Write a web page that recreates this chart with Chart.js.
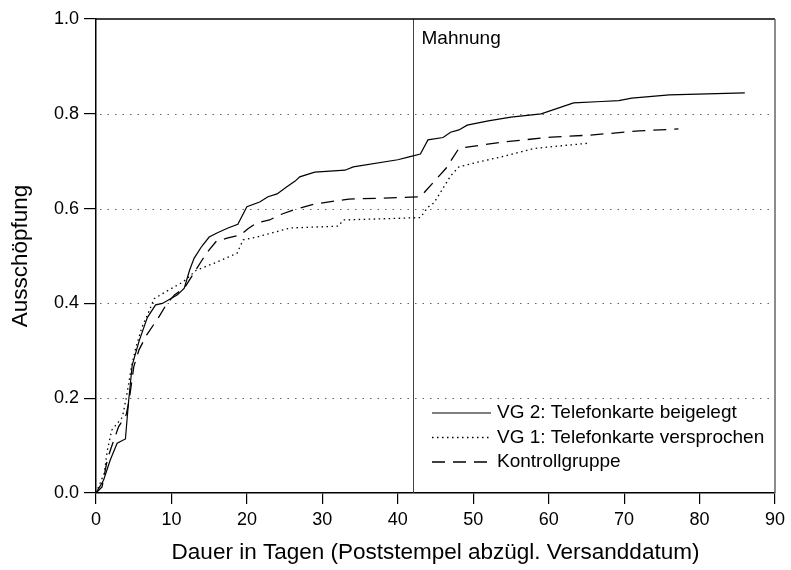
<!DOCTYPE html>
<html>
<head>
<meta charset="utf-8">
<script src="https://cdn.jsdelivr.net/npm/chart.js@4"></script>
<style>
  html, body { margin: 0; padding: 0; background: #fff; }
  #wrap { width: 791px; height: 570px; }
</style>
</head>
<body>
<div id="wrap"><canvas id="c" width="791" height="570"></canvas></div>
<script>
// days after mailing, cumulative response rate
const vg2Days   = [0, 1, 1.9, 2.8, 3.9, 4.3, 4.8, 5.7, 6.8, 7.9, 8.8, 10.8, 11.7, 12.4, 13, 14, 15, 16.1, 17.5, 18.8, 20, 21.7, 22.8, 24, 25.3, 26.4, 27, 29, 33, 34.1, 40, 41.5, 43, 44, 46, 47, 48.1, 49.2, 52, 55, 59, 63.3, 67, 69.3, 71, 76, 86];
const vg2Values = [0, 0.027, 0.07, 0.105, 0.114, 0.19, 0.27, 0.32, 0.37, 0.397, 0.40, 0.418, 0.432, 0.47, 0.495, 0.52, 0.54, 0.549, 0.559, 0.567, 0.604, 0.614, 0.625, 0.631, 0.646, 0.658, 0.667, 0.677, 0.681, 0.688, 0.703, 0.709, 0.715, 0.745, 0.75, 0.761, 0.766, 0.776, 0.785, 0.793, 0.80, 0.823, 0.826, 0.828, 0.833, 0.84, 0.844];

const vg1Days   = [0, 1.1, 1.5, 2.1, 3.5, 4, 4.7, 5.3, 6.1, 7.1, 7.7, 9.3, 11.5, 13.3, 16, 18.7, 19.5, 21.3, 25.7, 32.1, 32.8, 43, 44, 44.8, 47, 48.1, 50.6, 53.7, 58.1, 65.3];
const vg1Values = [0, 0.042, 0.09, 0.133, 0.16, 0.2, 0.266, 0.308, 0.35, 0.386, 0.41, 0.425, 0.445, 0.47, 0.487, 0.506, 0.534, 0.54, 0.559, 0.563, 0.576, 0.581, 0.603, 0.612, 0.669, 0.688, 0.698, 0.709, 0.727, 0.738];

const kgDays   = [0, 0.8, 1.5, 2, 3, 4, 4.4, 5, 5.7, 6.7, 8.4, 9.3, 10.4, 11.7, 14, 15, 16, 17.5, 19.1, 20.1, 21.3, 23, 24.4, 26.1, 29.1, 33.5, 41.7, 43, 46.4, 48.1, 53.7, 60.4, 65.5, 72, 77.2];
const kgValues = [0, 0.013, 0.07, 0.095, 0.14, 0.165, 0.196, 0.266, 0.302, 0.333, 0.373, 0.397, 0.418, 0.432, 0.49, 0.513, 0.532, 0.538, 0.544, 0.557, 0.57, 0.576, 0.587, 0.597, 0.61, 0.62, 0.624, 0.625, 0.685, 0.727, 0.74, 0.751, 0.755, 0.764, 0.768];

const seriesLabels = ["VG 2: Telefonkarte beigelegt", "VG 1: Telefonkarte versprochen", "Kontrollgruppe"];
const reminderDay = 42;
const reminderLabel = "Mahnung";

const FONT = "'Liberation Sans', Arial, Helvetica, sans-serif";

function pts(xs, ys) {
  return xs.map((x, i) => ({ x: x, y: ys[i] }));
}

// grid, frame, reminder line and legend
const extras = {
  id: "extras",
  beforeDatasetsDraw(chart) {
    const { ctx, chartArea: a, scales } = chart;
    ctx.save();
    ctx.strokeStyle = "#666";
    ctx.lineWidth = 1.2;
    ctx.setLineDash([1.5, 6]);
    for (const v of [0.2, 0.4, 0.6, 0.8]) {
      const y = Math.round(scales.y.getPixelForValue(v)) + 0.5;
      ctx.beginPath();
      ctx.moveTo(a.left + 4, y);
      ctx.lineTo(a.right, y);
      ctx.stroke();
    }
    ctx.setLineDash([]);
    // reminder line
    const mx = Math.round(scales.x.getPixelForValue(reminderDay)) + 0.5;
    ctx.strokeStyle = "#444";
    ctx.lineWidth = 1;
    ctx.beginPath();
    ctx.moveTo(mx, a.top);
    ctx.lineTo(mx, a.bottom);
    ctx.stroke();
    ctx.fillStyle = "#000";
    ctx.font = "19px " + FONT;
    ctx.textBaseline = "middle";
    ctx.fillText(reminderLabel, mx + 8, 39);
    ctx.restore();
  },
  afterDraw(chart) {
    const { ctx, chartArea: a } = chart;
    ctx.save();
    // top and right frame
    ctx.lineWidth = 1.5;
    ctx.strokeStyle = "#000";
    ctx.beginPath();
    ctx.moveTo(a.left, a.top);
    ctx.lineTo(a.right, a.top);
    ctx.stroke();
    ctx.strokeStyle = "#666";
    ctx.beginPath();
    ctx.moveTo(a.right, a.top);
    ctx.lineTo(a.right, a.bottom);
    ctx.stroke();
    // legend
    ctx.font = "19px " + FONT;
    ctx.textBaseline = "middle";
    ctx.fillStyle = "#000";
    chart.data.datasets.forEach((ds, i) => {
      const y = 413 + i * 24.5;
      ctx.strokeStyle = ds.borderColor;
      ctx.lineWidth = ds.borderWidth;
      ctx.setLineDash(ds.borderDash || []);
      ctx.beginPath();
      ctx.moveTo(432, y);
      ctx.lineTo(491, y);
      ctx.stroke();
      ctx.setLineDash([]);
      ctx.fillText(ds.label, 497, y);
    });
    ctx.restore();
  }
};

new Chart(document.getElementById("c"), {
  type: "line",
  data: {
    datasets: [
      { label: seriesLabels[0], data: pts(vg2Days, vg2Values), borderColor: "#000", borderWidth: 1.2, borderDash: [] },
      { label: seriesLabels[1], data: pts(vg1Days, vg1Values), borderColor: "#000", borderWidth: 1.3, borderDash: [1.5, 3.5] },
      { label: seriesLabels[2], data: pts(kgDays, kgValues), borderColor: "#000", borderWidth: 1.3, borderDash: [13, 8] }
    ]
  },
  options: {
    responsive: false,
    animation: false,
    layout: { padding: { top: 19, right: 16, left: 0, bottom: 0 } },
    elements: { point: { radius: 0 }, line: { tension: 0 } },
    plugins: { legend: { display: false }, tooltip: { enabled: false } },
    scales: {
      x: {
        type: "linear",
        min: 0,
        max: 90,
        afterFit(s) { s.height = 77; },
        ticks: { stepSize: 10, color: "#000", font: { family: FONT, size: 18 }, padding: 5, maxRotation: 0 },
        grid: { drawOnChartArea: false, drawTicks: true, tickLength: 11, color: "#000", lineWidth: 1.2 },
        border: { display: true, color: "#000", width: 1.5 },
        title: { display: true, text: "Dauer in Tagen (Poststempel abzügl. Versanddatum)", color: "#000", font: { family: FONT, size: 22.5 }, padding: { top: 34 } }
      },
      y: {
        min: 0,
        max: 1,
        afterFit(s) { s.width = 96; },
        ticks: { stepSize: 0.2, color: "#000", font: { family: FONT, size: 18 }, padding: 5, callback: v => v.toFixed(1) },
        grid: { drawOnChartArea: false, drawTicks: true, tickLength: 12, color: "#000", lineWidth: 1.2 },
        border: { display: true, color: "#000", width: 1.5 },
        title: { display: true, text: "Ausschöpfung", color: "#000", font: { family: FONT, size: 22.5 }, padding: { top: 7 } }
      }
    }
  },
  plugins: [extras]
});
</script>
</body>
</html>
